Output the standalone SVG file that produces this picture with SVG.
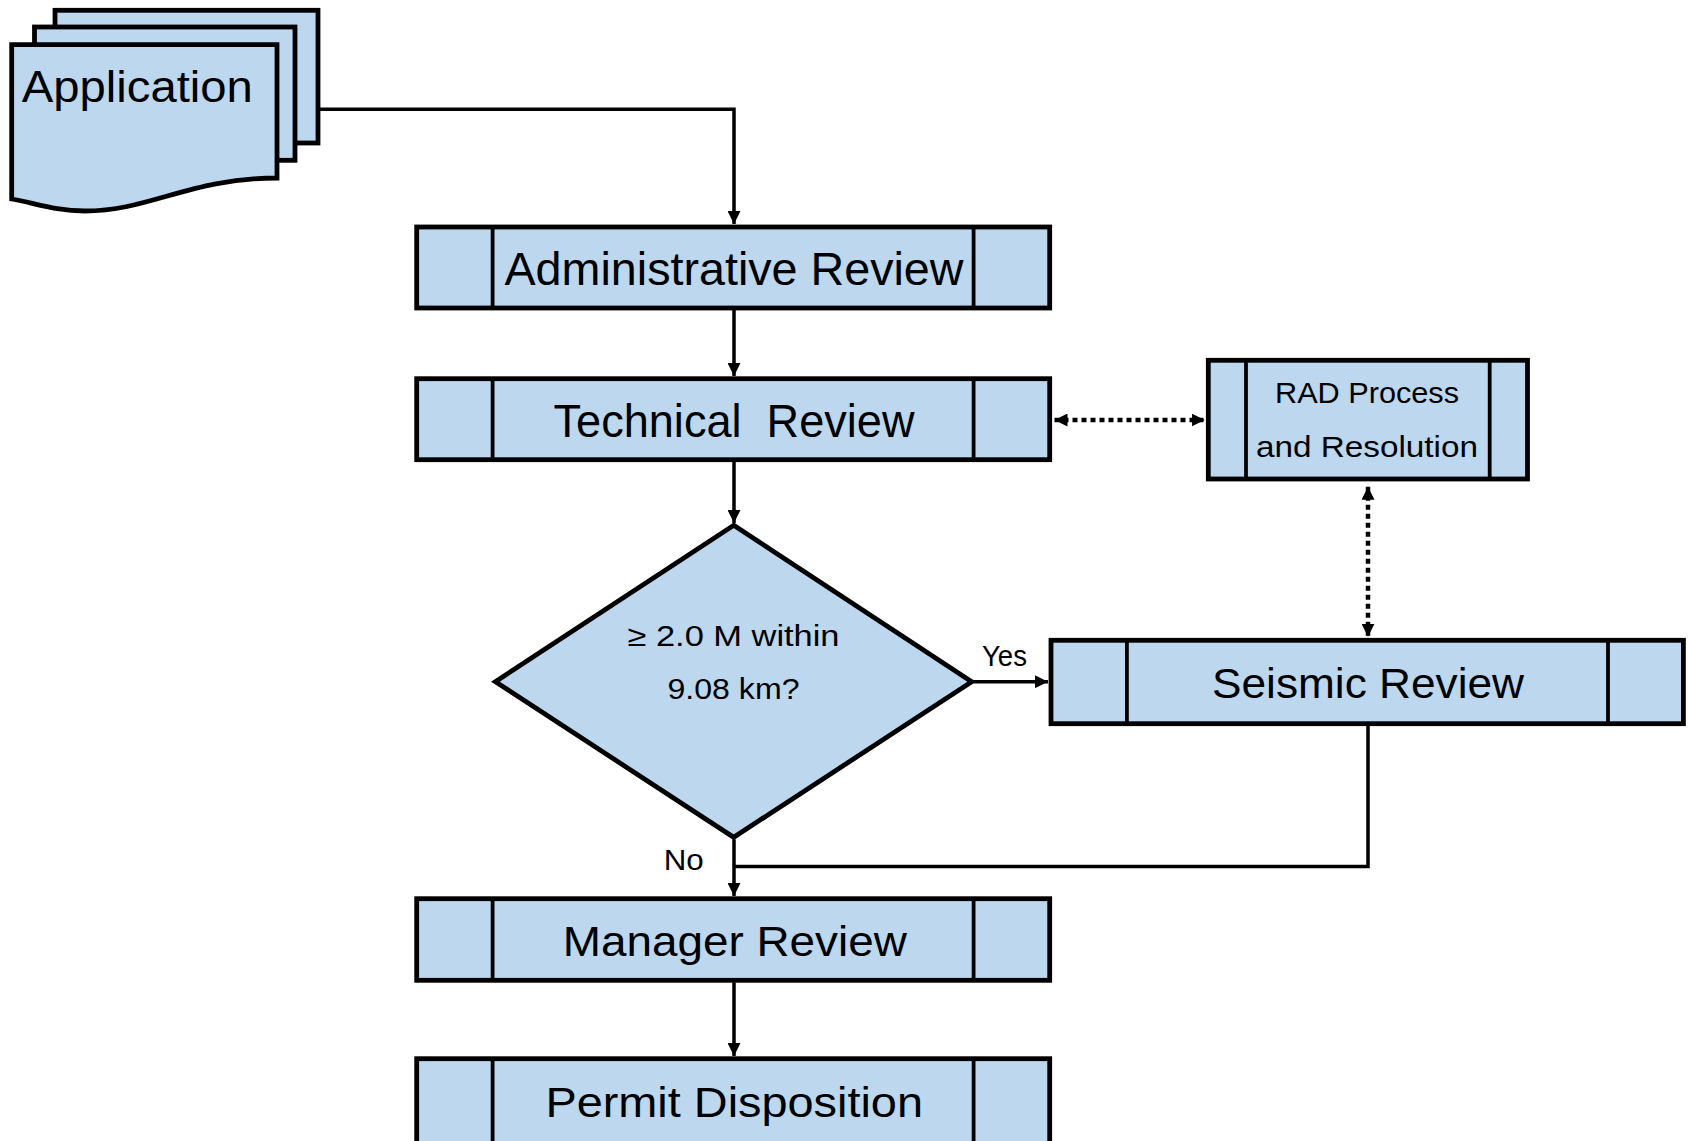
<svg xmlns="http://www.w3.org/2000/svg" width="1688" height="1141" viewBox="0 0 1688 1141">
<style>
.box{fill:#BDD7EE;stroke:#000;stroke-width:4.8}
.div{stroke:#000;stroke-width:3.8;fill:none}
.t{font-family:"Liberation Sans",Arial,sans-serif;fill:#000;text-anchor:middle}
.lbl{font-family:"Liberation Sans",Arial,sans-serif;fill:#000}
.c{fill:none;stroke:#000;stroke-width:3.5}
.d{fill:none;stroke:#000;stroke-width:4.5;stroke-dasharray:5 4}
</style>
<defs>
<marker id="ah" markerUnits="userSpaceOnUse" markerWidth="13" markerHeight="13" refX="13" refY="6.5" orient="auto-start-reverse" viewBox="0 0 13 13">
<path d="M0,0 L13,6.5 L0,13 z" fill="#000"/>
</marker>
</defs>
<rect width="1688" height="1141" fill="#fff"/>

<g id="connectors">
<path class="c" d="M320,109.3 H734 V224" marker-end="url(#ah)"/>
<path class="c" d="M734,310 V376" marker-end="url(#ah)"/>
<path class="c" d="M734,461.7 V523" marker-end="url(#ah)"/>
<path class="c" d="M973.7,681.7 H1048" marker-end="url(#ah)"/>
<path class="c" d="M1368,725.7 V866.5 H734"/>
<path class="c" d="M734,839.3 V896" marker-end="url(#ah)"/>
<path class="c" d="M734,982.3 V1056" marker-end="url(#ah)"/>
<path class="d" d="M1054.5,420 H1204.7" marker-start="url(#ah)" marker-end="url(#ah)"/>
<path class="d" d="M1368,486.7 V636.7" marker-start="url(#ah)" marker-end="url(#ah)"/>
<text class="lbl" x="982" y="665.7" font-size="30" textLength="45" lengthAdjust="spacingAndGlyphs">Yes</text>
<text class="lbl" x="663.7" y="870" font-size="30" textLength="40" lengthAdjust="spacingAndGlyphs">No</text>
</g>

<g id="application">
<rect class="box" x="55" y="10.3" width="263" height="132.7"/>
<rect class="box" x="34.5" y="27" width="260.5" height="133.3"/>
<path class="box" d="M11.7,44.7 H277 V178 C190,178 150,211 85,211 C55,211 35,203 11.7,199 Z"/>
<text class="lbl" x="21.8" y="101.7" font-size="44" textLength="231" lengthAdjust="spacingAndGlyphs">Application</text>
</g>

<g id="admin">
<rect class="box" x="416.7" y="227" width="633" height="81"/>
<line class="div" x1="492.6" y1="227" x2="492.6" y2="308"/>
<line class="div" x1="973.6" y1="227" x2="973.6" y2="308"/>
<text class="t" x="734" y="285" font-size="46" textLength="459" lengthAdjust="spacingAndGlyphs">Administrative Review</text>
</g>

<g id="technical">
<rect class="box" x="416.7" y="378.7" width="633" height="81"/>
<line class="div" x1="492.6" y1="378.7" x2="492.6" y2="459.7"/>
<line class="div" x1="973.6" y1="378.7" x2="973.6" y2="459.7"/>
<text class="t" x="734" y="436.7" font-size="46" textLength="361" lengthAdjust="spacingAndGlyphs" xml:space="preserve">Technical  Review</text>
</g>

<g id="rad">
<rect class="box" x="1208.3" y="360.3" width="319.2" height="118.7"/>
<line class="div" x1="1246" y1="360.3" x2="1246" y2="479"/>
<line class="div" x1="1489.7" y1="360.3" x2="1489.7" y2="479"/>
<text class="t" x="1367" y="403.3" font-size="29" textLength="184" lengthAdjust="spacingAndGlyphs">RAD Process</text>
<text class="t" x="1367" y="456.7" font-size="29" textLength="222" lengthAdjust="spacingAndGlyphs">and Resolution</text>
</g>

<g id="decision">
<polygon class="box" points="733.7,525.3 971.7,681.7 733.7,837.3 495.4,681.7"/>
<text class="t" x="733.5" y="645.7" font-size="29" textLength="212" lengthAdjust="spacingAndGlyphs">≥ 2.0 M within</text>
<text class="t" x="733.5" y="699.3" font-size="29" textLength="132" lengthAdjust="spacingAndGlyphs">9.08 km?</text>
</g>

<g id="seismic">
<rect class="box" x="1051" y="640.3" width="632.4" height="83.4"/>
<line class="div" x1="1126.9" y1="640.3" x2="1126.9" y2="723.7"/>
<line class="div" x1="1608" y1="640.3" x2="1608" y2="723.7"/>
<text class="t" x="1368" y="698.3" font-size="43" textLength="312" lengthAdjust="spacingAndGlyphs">Seismic Review</text>
</g>

<g id="manager">
<rect class="box" x="416.7" y="898.7" width="633" height="81.6"/>
<line class="div" x1="492.6" y1="898.7" x2="492.6" y2="980.3"/>
<line class="div" x1="973.6" y1="898.7" x2="973.6" y2="980.3"/>
<text class="t" x="734.8" y="956" font-size="43" textLength="344" lengthAdjust="spacingAndGlyphs">Manager Review</text>
</g>

<g id="permit">
<rect class="box" x="416.7" y="1058.7" width="633" height="90"/>
<line class="div" x1="492.6" y1="1058.7" x2="492.6" y2="1148"/>
<line class="div" x1="973.6" y1="1058.7" x2="973.6" y2="1148"/>
<text class="t" x="734.2" y="1116.7" font-size="43" textLength="377.6" lengthAdjust="spacingAndGlyphs">Permit Disposition</text>
</g>
</svg>
